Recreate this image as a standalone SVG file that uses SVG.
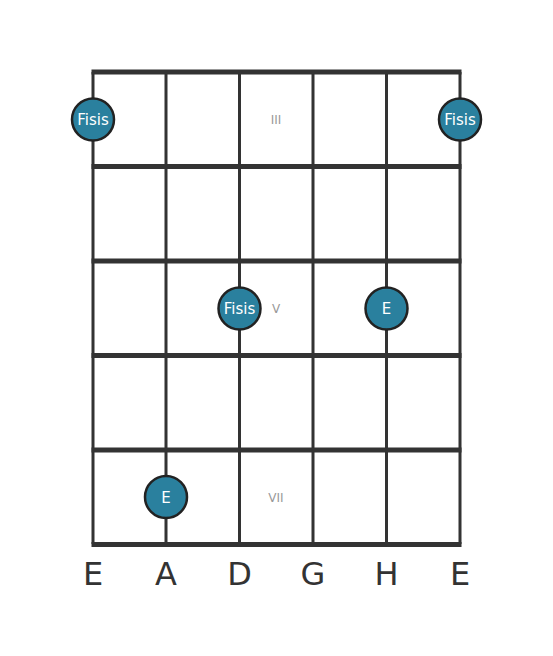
<svg xmlns="http://www.w3.org/2000/svg" width="553" height="656" viewBox="0 0 553 656">
<style>
.fret{stroke:#333;stroke-width:5;}
.str{stroke:#333;stroke-width:3;}
.dot{fill:#2a809e;stroke:#222;stroke-width:2.5;}
.dt{fill:#fff;font-family:"DejaVu Sans",sans-serif;font-size:15px;text-anchor:middle;}
.rn{fill:#999;font-family:"DejaVu Sans",sans-serif;font-size:12px;text-anchor:middle;}
.sn{fill:#333;font-family:"DejaVu Sans",sans-serif;font-size:32px;text-anchor:middle;}
</style>
<rect width="553" height="656" fill="#fff"/>
<g id="connectors">
<line class="str" x1="93" y1="72" x2="93" y2="544"/>
<line class="str" x1="166" y1="72" x2="166" y2="544"/>
<line class="str" x1="239.5" y1="72" x2="239.5" y2="544"/>
<line class="str" x1="313" y1="72" x2="313" y2="544"/>
<line class="str" x1="386.5" y1="72" x2="386.5" y2="544"/>
<line class="str" x1="460" y1="72" x2="460" y2="544"/>
<line class="fret" x1="91.5" y1="72" x2="461.5" y2="72"/>
<line class="fret" x1="91.5" y1="166.5" x2="461.5" y2="166.5"/>
<line class="fret" x1="91.5" y1="261" x2="461.5" y2="261"/>
<line class="fret" x1="91.5" y1="355.5" x2="461.5" y2="355.5"/>
<line class="fret" x1="91.5" y1="450" x2="461.5" y2="450"/>
<line class="fret" x1="91.5" y1="544.5" x2="461.5" y2="544.5"/>
</g>
<g id="labels">
<text class="rn" x="276" y="124">III</text>
<text class="rn" x="276" y="313">V</text>
<text class="rn" x="276" y="502">VII</text>
<text class="sn" x="93" y="585">E</text>
<text class="sn" x="166" y="585">A</text>
<text class="sn" x="239.5" y="585">D</text>
<text class="sn" x="313" y="585">G</text>
<text class="sn" x="386.5" y="585">H</text>
<text class="sn" x="460" y="585">E</text>
</g>
<g id="n1"><circle class="dot" cx="93" cy="119.5" r="21"/><text class="dt" x="93" y="125">Fisis</text></g>
<g id="n2"><circle class="dot" cx="460" cy="119.5" r="21"/><text class="dt" x="460" y="125">Fisis</text></g>
<g id="n3"><circle class="dot" cx="239.5" cy="308.5" r="21"/><text class="dt" x="239.5" y="314">Fisis</text></g>
<g id="n4"><circle class="dot" cx="386.5" cy="308.5" r="21"/><text class="dt" x="386.5" y="314">E</text></g>
<g id="n5"><circle class="dot" cx="166" cy="497" r="21"/><text class="dt" x="166" y="502.5">E</text></g>
</svg>
